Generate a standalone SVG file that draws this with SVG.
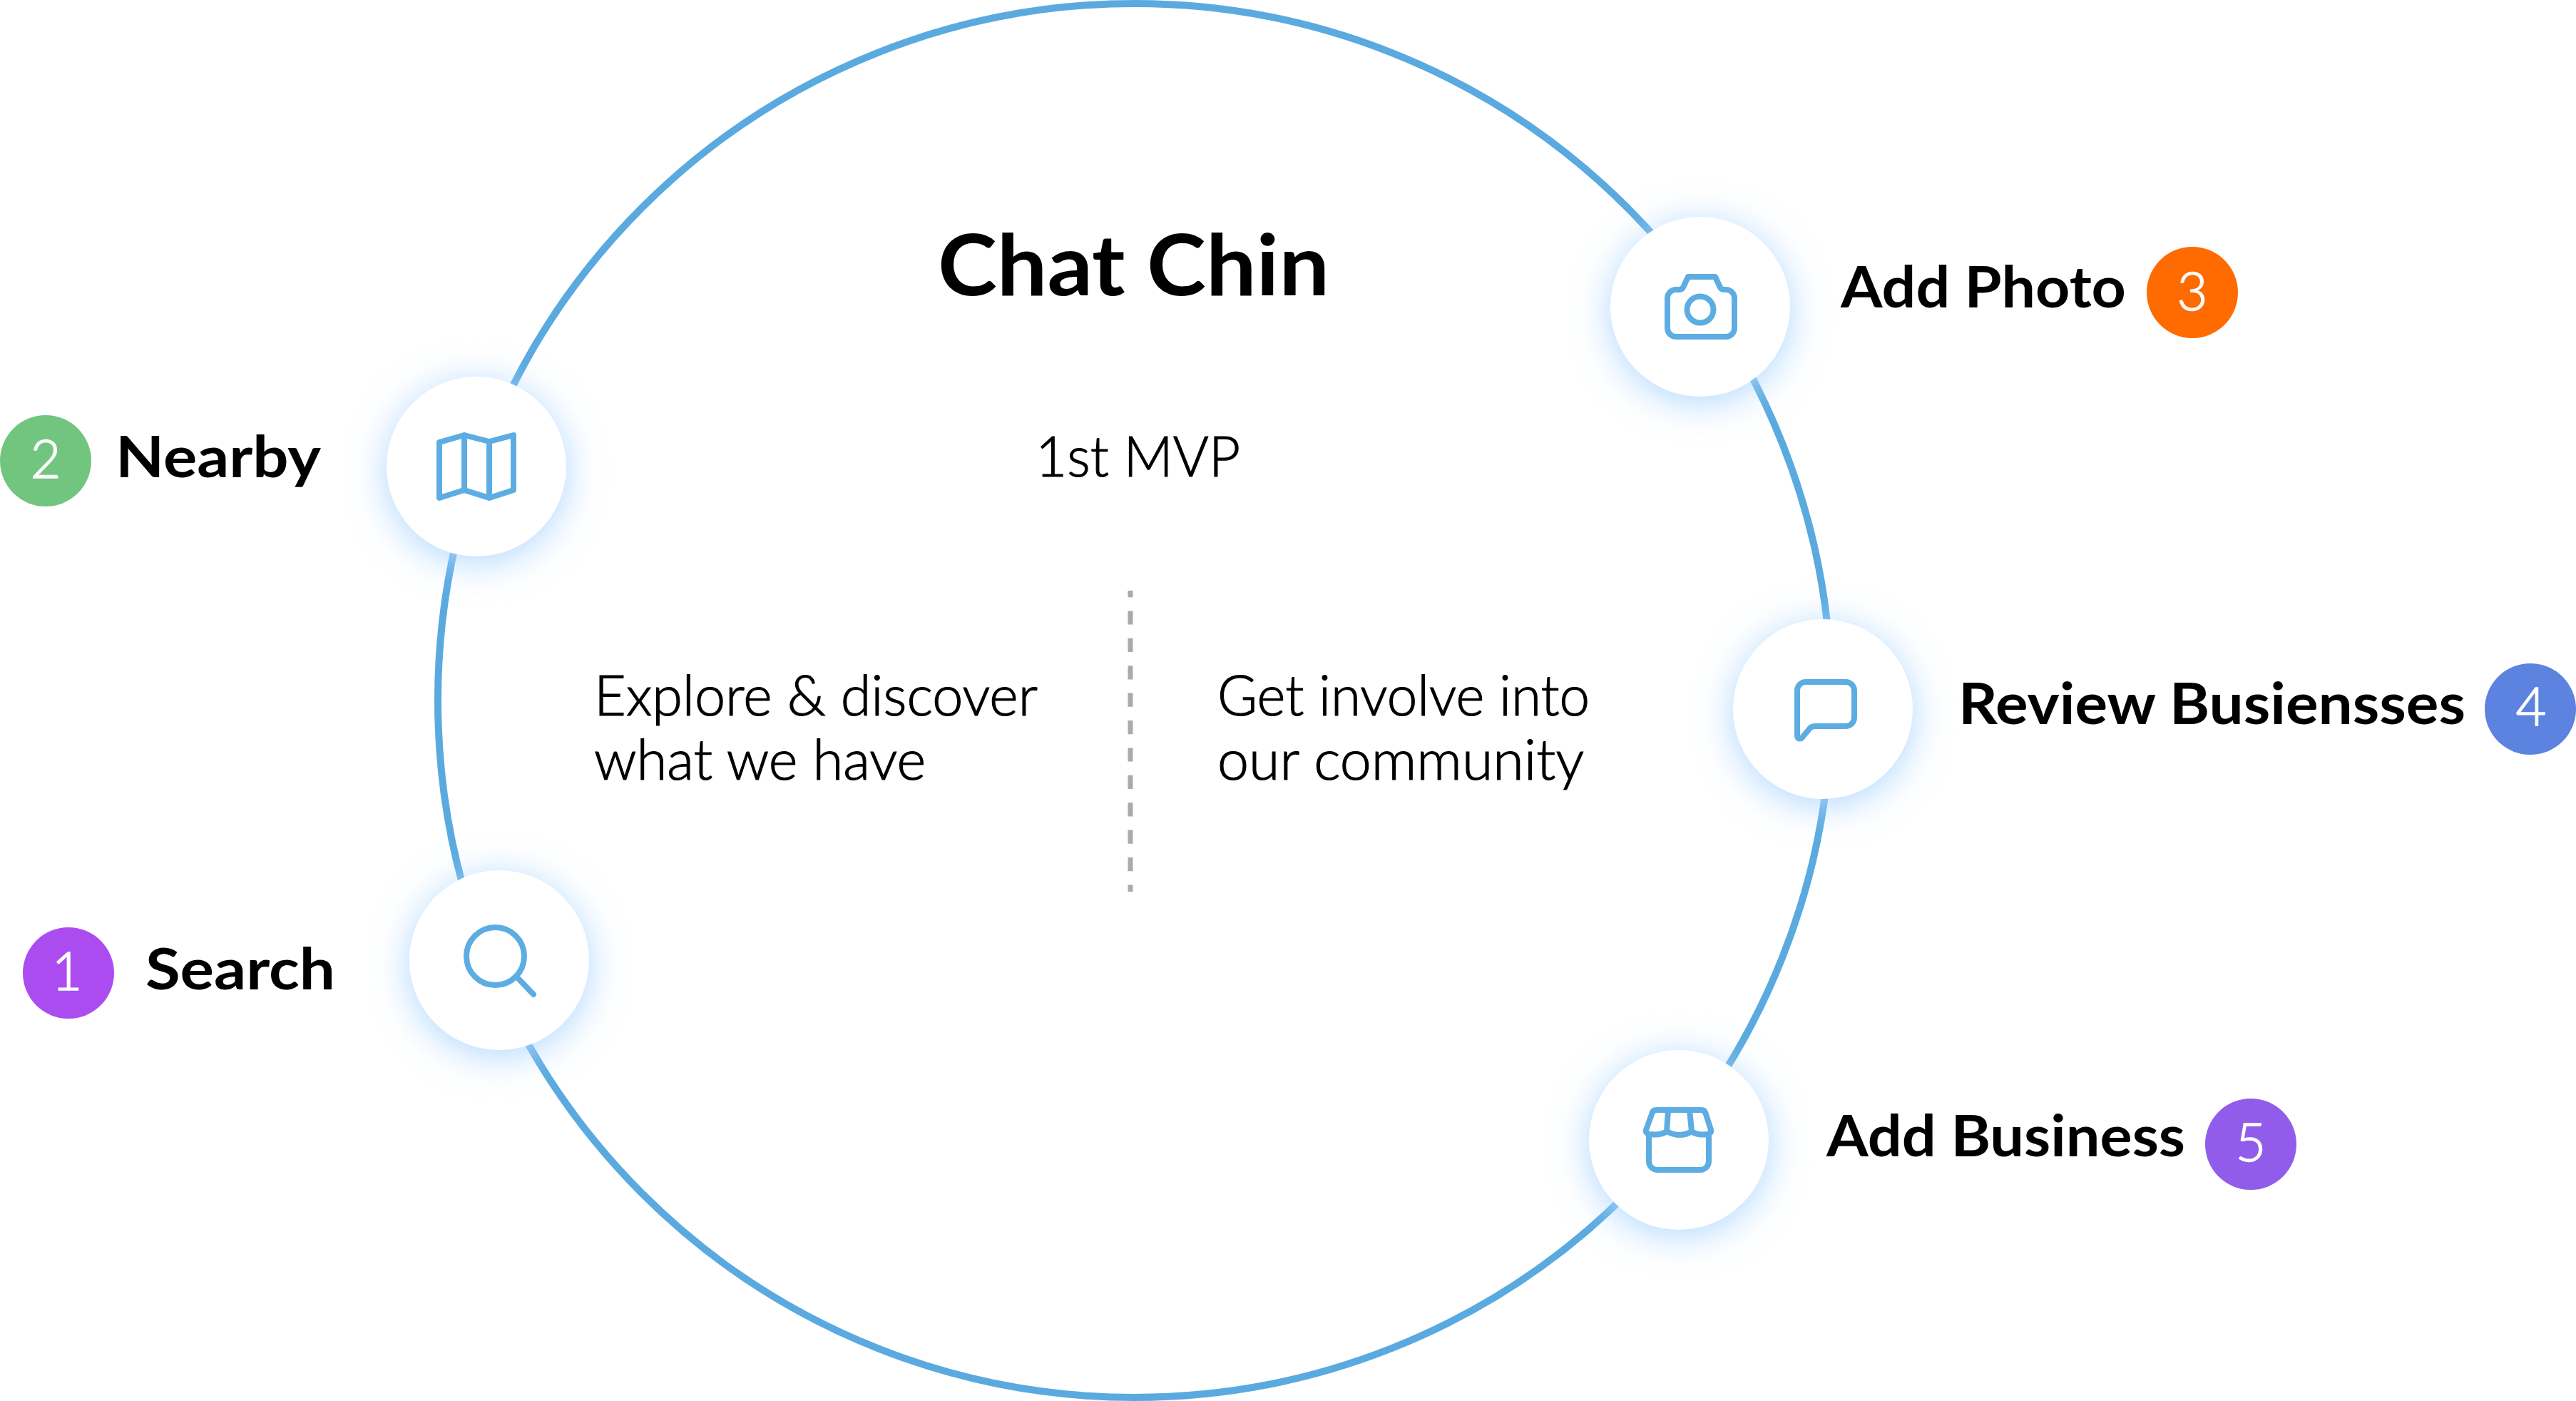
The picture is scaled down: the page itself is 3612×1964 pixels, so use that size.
<svg xmlns="http://www.w3.org/2000/svg" width="3612" height="1964" viewBox="0 0 3612 1964">
<defs>
<style>
text{font-family:"Lato","Liberation Sans",sans-serif;fill:#000}
.lbl{font-size:80px;font-weight:700}
.body{font-size:78px;font-weight:300;stroke:#000;stroke-width:1.2px}
.num{font-size:74px;font-weight:300;fill:#fff;stroke:#fff;stroke-width:1.5px;text-anchor:middle}
.glow{fill:#B0D8FF;filter:url(#blur)}
.disc{fill:#fff}
.ic{fill:none;stroke:#5DADE2;stroke-width:8;stroke-linejoin:round;stroke-linecap:round}
</style>
<filter id="blur" x="-50%" y="-50%" width="200%" height="200%"><feGaussianBlur stdDeviation="26"/></filter>
</defs>
<rect width="3612" height="1964" fill="#fff"/>
<g id="connectors">
<circle cx="1591" cy="982" r="977" fill="none" stroke="#5AAAE0" stroke-width="10"/>
<line x1="1585" y1="828" x2="1585" y2="1250" stroke="#AAAAAA" stroke-width="7" stroke-dasharray="19.2 19.2" stroke-dashoffset="10"/>
</g>
<g id="center">
<text x="1315" y="414" font-size="118" font-weight="700" textLength="549" lengthAdjust="spacingAndGlyphs">Chat Chin</text>
<text class="body" x="1452" y="668" textLength="287" lengthAdjust="spacingAndGlyphs">1st MVP</text>
<text class="body" x="833" y="1003" textLength="622" lengthAdjust="spacingAndGlyphs">Explore &amp; discover</text>
<text class="body" x="833" y="1093" textLength="465" lengthAdjust="spacingAndGlyphs">what we have</text>
<text class="body" x="1707" y="1003" textLength="522" lengthAdjust="spacingAndGlyphs">Get involve into</text>
<text class="body" x="1707" y="1093" textLength="514" lengthAdjust="spacingAndGlyphs">our community</text>
</g>
<g id="node-search">
<circle class="glow" cx="700" cy="1354" r="126"/><circle class="disc" cx="700" cy="1346" r="126"/>
<circle class="ic" cx="694.5" cy="1340.5" r="40.5"/><line class="ic" x1="725" y1="1370" x2="748" y2="1394"/>
<circle cx="96" cy="1364" r="64" fill="#AB4CF1"/><text class="num" x="94" y="1388">1</text>
<text class="lbl" x="204" y="1387" textLength="266" lengthAdjust="spacingAndGlyphs">Search</text>
</g>
<g id="node-nearby">
<circle class="glow" cx="668" cy="662" r="126"/><circle class="disc" cx="668" cy="654" r="126"/>
<path class="ic" d="M616 620L651 610L686 619L720 610V687L686 698L651 687L616 698ZM651 610V687M686 619V698"/>
<circle cx="64" cy="646" r="64" fill="#72C57E"/><text class="num" x="64" y="670">2</text>
<text class="lbl" x="162" y="669" textLength="288" lengthAdjust="spacingAndGlyphs">Nearby</text>
</g>
<g id="node-photo">
<circle class="glow" cx="2384" cy="438" r="126"/><circle class="disc" cx="2384" cy="430" r="126"/>
<path class="ic" d="M2350 472H2420a12 12 0 0 0 12-12V418a12 12 0 0 0-12-12h-3q-4 0-6-5l-6-13H2367l-6 13q-2 5-6 5h-5a12 12 0 0 0-12 12V460a12 12 0 0 0 12 12Z"/>
<circle class="ic" cx="2384" cy="434" r="18.5"/>
<circle cx="3074" cy="410" r="64" fill="#FF6B00"/><text class="num" x="3074" y="435">3</text>
<text class="lbl" x="2581" y="431" textLength="400" lengthAdjust="spacingAndGlyphs">Add Photo</text>
</g>
<g id="node-review">
<circle class="glow" cx="2556" cy="1002" r="126"/><circle class="disc" cx="2556" cy="994" r="126"/>
<path class="ic" d="M2532 956H2588a12 12 0 0 1 12 12V1006a12 12 0 0 1-12 12H2545q-6 0-9 5L2526 1035q-6 2-6-4V968a12 12 0 0 1 12-12Z"/>
<circle cx="3548" cy="994" r="64" fill="#5B83DF"/><text class="num" x="3549" y="1017">4</text>
<text class="lbl" x="2746" y="1015" textLength="711" lengthAdjust="spacingAndGlyphs">Review Busiensses</text>
</g>
<g id="node-business">
<circle class="glow" cx="2354" cy="1606" r="126"/><circle class="disc" cx="2354" cy="1598" r="126"/>
<path class="ic" d="M2312 1592V1628a12 12 0 0 0 12 12H2384a12 12 0 0 0 12-12V1592"/>
<path class="ic" d="M2323 1556H2385q6 0 7 6L2399 1584q1 5-5 6q-14 2-22-4q-16 10-35 0q-8 6-24 4q-6-1-5-6L2316 1562q1-6 7-6ZM2339 1556L2337 1586M2369 1556L2372 1586"/>
<circle cx="3156" cy="1604" r="64" fill="#925CEB"/><text class="num" x="3156" y="1628">5</text>
<text class="lbl" x="2561" y="1621" textLength="503" lengthAdjust="spacingAndGlyphs">Add Business</text>
</g>
</svg>
